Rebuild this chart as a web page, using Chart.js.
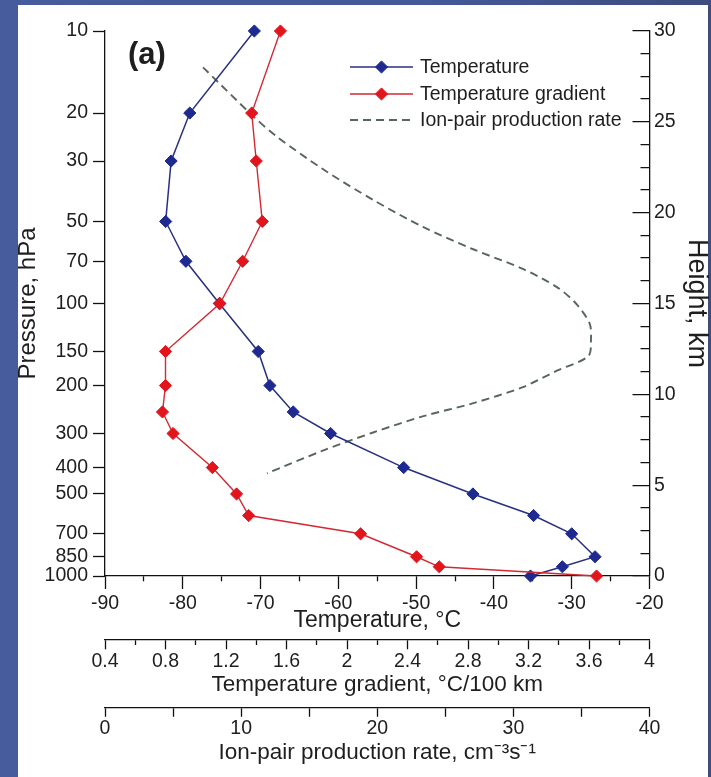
<!DOCTYPE html>
<html>
<head>
<meta charset="utf-8">
<script src="https://cdn.jsdelivr.net/npm/chart.js@4/dist/chart.umd.min.js"></script>
<style>
html,body{margin:0;padding:0;}
body{width:711px;height:777px;overflow:hidden;position:relative;
  background:linear-gradient(to right,#465c9d 0%,#44599a 60%,#3e4c7e 100%);}
#panel{position:absolute;left:18px;top:5px;width:690px;height:772px;background:#ffffff;}
#c{position:absolute;left:0;top:0;}
</style>
</head>
<body>
<div id="panel"></div>
<canvas id="c" width="711" height="777"></canvas>
<script>
// ---- data ----
const pressureLevels = [10, 20, 30, 50, 70, 100, 150, 200, 250, 300, 400, 500, 600, 700, 850, 925, 1000];
const temperature = [-70.8, -79.1, -81.5, -82.2, -79.6, -75.3, -70.3, -68.8, -65.8, -61.0, -51.6, -42.7, -34.9, -30.0, -27.0, -31.2, -35.3];
const temperatureGradient = [1.56, 1.37, 1.40, 1.44, 1.31, 1.16, 0.80, 0.80, 0.78, 0.85, 1.11, 1.27, 1.35, 2.09, 2.46, 2.61, 3.65];
const ionHeight = [28.0, 25.3, 24.2, 22.4, 20.7, 19.2, 18.0, 16.9, 15.9, 15.0, 13.9, 13.0, 12.1, 11.3, 10.4, 9.5, 8.8, 7.9, 6.9, 5.65];
const ionRate = [7.2, 10.9, 12.6, 16.0, 19.7, 23.4, 27.0, 30.7, 33.2, 34.6, 35.6, 35.7, 35.5, 33.2, 30.7, 27.0, 23.4, 19.7, 16.0, 11.9];
const pressureTicks = [10, 20, 30, 50, 70, 100, 150, 200, 300, 400, 500, 700, 850, 1000];
const seriesLabels = ['Temperature', 'Temperature gradient', 'Ion-pair production rate'];
const axisTitles = {
  temperature: 'Temperature, \u00B0C',
  gradient: 'Temperature gradient, \u00B0C/100 km',
  ion: 'Ion-pair production rate, cm\u207B\u00B3s\u207B\u00B9',
  pressure: 'Pressure, hPa',
  height: 'Height, km'
};
const panelLabel = '(a)';

// ---- styling ----
const FONT = "'Liberation Sans', Arial, Helvetica, sans-serif";
const AXIS = '#111111';
const TXT = '#1e1e1e';
const BLUE_LINE = '#28317f', BLUE_PT = '#1f2a90';
const RED_LINE = '#d22a33', RED_PT = '#e2141c';
const ION_COL = '#58655d';

Chart.defaults.font.family = FONT;
Chart.defaults.color = TXT;

const isMult = (v, m) => Math.abs(v / m - Math.round(v / m)) < 1e-6;

const overlay = {
  id: 'overlay',
  afterDraw(chart) {
    const ctx = chart.ctx;
    ctx.save();
    ctx.fillStyle = TXT;
    ctx.font = 'bold 31px ' + FONT;
    ctx.textAlign = 'left';
    ctx.textBaseline = 'alphabetic';
    ctx.fillText(panelLabel, 128, 63.5);

    const rows = [67, 94, 120];
    chart.data.datasets.forEach((d, i) => {
      const y = rows[i];
      ctx.save();
      ctx.strokeStyle = d.borderColor;
      ctx.lineWidth = d.borderWidth;
      ctx.setLineDash(d.borderDash || []);
      ctx.beginPath(); ctx.moveTo(350, y); ctx.lineTo(413, y); ctx.stroke();
      ctx.setLineDash([]);
      if (d.pointRadius > 0) {
        const r = d.pointRadius, cx = 381.5;
        ctx.fillStyle = d.pointBackgroundColor;
        ctx.strokeStyle = d.pointBorderColor;
        ctx.lineWidth = d.pointBorderWidth;
        ctx.beginPath();
        ctx.moveTo(cx - r, y); ctx.lineTo(cx, y - r); ctx.lineTo(cx + r, y); ctx.lineTo(cx, y + r);
        ctx.closePath(); ctx.fill(); ctx.stroke();
      }
      ctx.restore();
      ctx.fillStyle = TXT;
      ctx.font = '19.5px ' + FONT;
      ctx.textBaseline = 'middle';
      ctx.fillText(d.label, 420, y + 0.3);
    });
    ctx.restore();
  }
};

new Chart(document.getElementById('c'), {
  type: 'scatter',
  data: {
    datasets: [
      {
        label: seriesLabels[0],
        data: pressureLevels.map((p, i) => ({x: temperature[i], y: p})),
        xAxisID: 'x', yAxisID: 'y',
        showLine: true, tension: 0,
        borderColor: BLUE_LINE, borderWidth: 1.5,
        pointStyle: 'rectRot', pointRadius: 6.1,
        pointBackgroundColor: BLUE_PT, pointBorderColor: BLUE_PT, pointBorderWidth: 1,
        clip: false, order: 1
      },
      {
        label: seriesLabels[1],
        data: pressureLevels.map((p, i) => ({x: temperatureGradient[i], y: p})),
        xAxisID: 'xGrad', yAxisID: 'y',
        showLine: true, tension: 0,
        borderColor: RED_LINE, borderWidth: 1.4,
        pointStyle: 'rectRot', pointRadius: 6.1,
        pointBackgroundColor: RED_PT, pointBorderColor: RED_PT, pointBorderWidth: 1,
        clip: false, order: 0
      },
      {
        label: seriesLabels[2],
        data: ionHeight.map((h, i) => ({x: ionRate[i], y: h})),
        xAxisID: 'xIon', yAxisID: 'yH',
        showLine: true, tension: 0.3,
        borderColor: ION_COL, borderWidth: 1.9, borderDash: [8, 5],
        pointRadius: 0, clip: false, order: 2
      }
    ]
  },
  options: {
    responsive: false,
    animation: false,
    devicePixelRatio: 1,
    layout: {padding: {top: 31, left: 0, right: 0, bottom: 0}},
    plugins: {legend: {display: false}, tooltip: {enabled: false}},
    events: [],
    scales: {
      x: {
        axis: 'x', type: 'linear', position: 'bottom', weight: 0,
        min: -90, max: -20,
        ticks: {stepSize: 5, autoSkip: false, maxRotation: 0, padding: 2.7, color: TXT,
          font: {size: 19.5}, callback: v => isMult(v, 10) ? String(v) : ''},
        grid: {drawOnChartArea: false, tickLength: 13, tickWidth: 1.3, tickColor: AXIS,
          tickBorderDash: c => (c.tick && !isMult(c.tick.value, 10)) ? [5, 100] : []},
        border: {color: AXIS, width: 1.3},
        title: {display: true, text: axisTitles.temperature, color: TXT,
          font: {size: 23}, padding: {top: 0, bottom: 4.8}},
        afterFit: s => { s.height = 63.3; }
      },
      xGrad: {
        axis: 'x', type: 'linear', position: 'bottom', weight: 1,
        min: 0.4, max: 4,
        ticks: {stepSize: 0.2, autoSkip: false, maxRotation: 0, padding: 1, color: TXT,
          font: {size: 19.5}, callback: (v, i) => i % 2 === 0 ? String(+v.toFixed(1)) : ''},
        grid: {drawOnChartArea: false, tickLength: 10, tickWidth: 1.3, tickColor: AXIS,
          tickBorderDash: c => (c.index % 2 === 1) ? [4.7, 100] : []},
        border: {color: AXIS, width: 1.3},
        title: {display: true, text: axisTitles.gradient, color: TXT,
          font: {size: 22.5}, padding: {top: 0, bottom: 8.8}},
        afterFit: s => { s.height = 68; }
      },
      xIon: {
        axis: 'x', type: 'linear', position: 'bottom', weight: 2,
        min: 0, max: 40,
        ticks: {stepSize: 5, autoSkip: false, maxRotation: 0, padding: 0.6, color: TXT,
          font: {size: 19.5}, callback: v => isMult(v, 10) ? String(v) : ''},
        grid: {drawOnChartArea: false, tickLength: 9.5, tickWidth: 1.3, tickColor: AXIS},
        border: {color: AXIS, width: 1.3},
        title: {display: true, text: axisTitles.ion, color: TXT,
          font: {size: 22.5}, padding: {top: 0, bottom: 11.1}},
        afterFit: s => { s.height = 69.7; }
      },
      y: {
        axis: 'y', type: 'logarithmic', position: 'left', reverse: true,
        min: 10, max: 1000,
        afterBuildTicks: s => { s.ticks = pressureTicks.map(v => ({value: v})); },
        ticks: {autoSkip: false, padding: 5, color: TXT, font: {size: 19.5},
          callback: v => String(v)},
        grid: {drawOnChartArea: false, tickLength: 12, tickWidth: 1.3, tickColor: AXIS},
        border: {color: AXIS, width: 1.3},
        title: {display: true, text: axisTitles.pressure, color: TXT,
          font: {size: 24, lineHeight: 1}, padding: {top: 16.4, bottom: 0}},
        afterFit: s => { s.width = 105; }
      },
      yH: {
        axis: 'y', type: 'linear', position: 'right',
        min: 0, max: 30,
        ticks: {stepSize: 1.25, autoSkip: false, padding: 4.5, color: TXT, font: {size: 19.5},
          callback: v => isMult(v, 5) ? String(v) : ''},
        grid: {drawOnChartArea: true, drawTicks: false, color: AXIS, lineWidth: 1.3},
        border: {color: AXIS, width: 1.3,
          dash: c => {
            if (!c.tick) return [];
            const ca = c.chart.chartArea;
            const w = ca ? (ca.right - ca.left) : 545;
            const L = isMult(c.tick.value, 5) ? 17 : 9;
            return [0, w - L, L + 10, 3000];
          }},
        title: {display: true, text: axisTitles.height, color: TXT,
          font: {size: 27, lineHeight: 1}, padding: {top: 1.1, bottom: 0}},
        afterFit: s => { s.width = 61.5; }
      }
    }
  },
  plugins: [overlay]
});
</script>
</body>
</html>
